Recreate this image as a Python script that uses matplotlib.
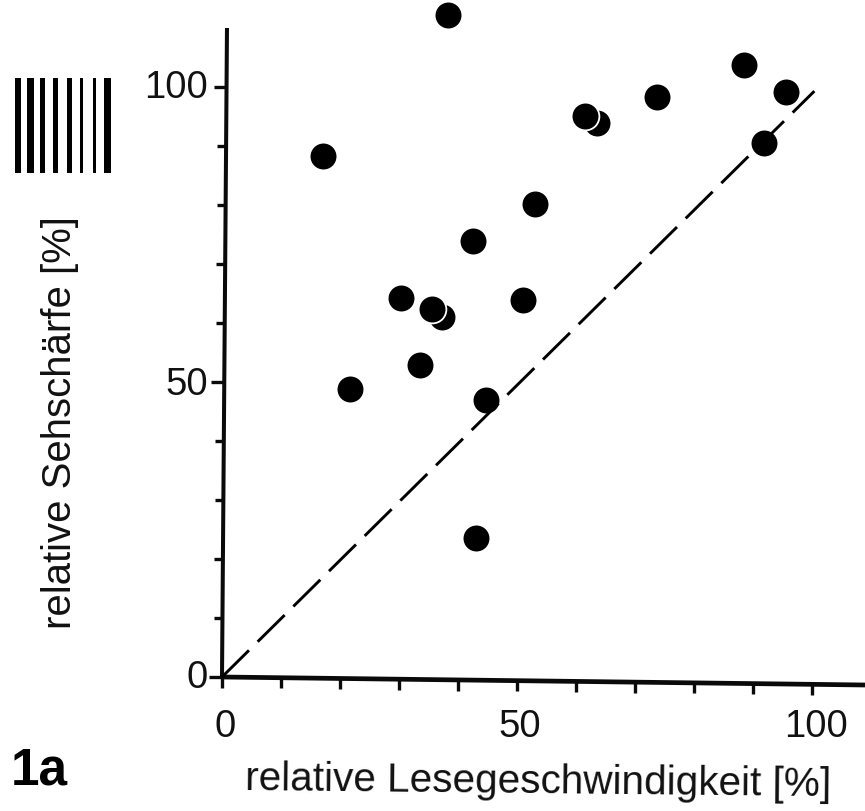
import matplotlib
matplotlib.use("Agg")
import matplotlib.pyplot as plt
from matplotlib.patches import Rectangle
import numpy as np

plt.rcParams['font.family'] = ['Liberation Sans', 'DejaVu Sans']

W, H = 865, 811

# values, hidden circles first so the others cover them
lese = [63.6, 37.3, 38.3, 88.5, 73.7, 95.6, 61.5, 17.1, 91.9, 53.1, 42.5, 30.3, 51.0, 35.6, 33.6, 21.7, 44.7, 43.0]
seh = [93.9, 61.0, 112.2, 103.7, 98.3, 99.2, 95.1, 88.3, 90.5, 80.2, 73.9, 64.2, 63.9, 62.4, 52.9, 48.8, 46.9, 23.6]
diag_x = [0, 100.4]
diag_y = [0, 99.3]
major_ticks = [0, 50, 100]
minor_ticks = [10, 20, 30, 40, 60, 70, 80, 90]
x_ticks_all = [0, 10, 20, 30, 40, 50, 60, 70, 80, 90, 100]

# stimulus grating at the upper left
bar_centers = [17.7, 30.7, 42.7, 55.7, 69, 81, 94, 107.7]
bar_widths = [6, 7, 5, 5, 5, 3, 3, 7]

scale = 5.9  # pixels per percent
x0_px, y0_px = 222, 677
ax = plt.figure(figsize=(W / 100, H / 100), dpi=100).add_axes([0, 0, 1, 1])
fig = ax.figure
ax.set_xlim(-x0_px / scale, (W - x0_px) / scale)
ax.set_ylim(-(H - y0_px) / scale, y0_px / scale)
ax.axis('off')

# the scan is slightly rotated, so the axes lean a little
lean = 8 / 643
lean_y = 5 / 650
axis_col = '#0a0a0a'

top = 110
right = (W - x0_px) / scale
ax.plot([0, right], [0, -lean * right], color=axis_col, lw=3.4, solid_capstyle='butt')
ax.plot([0, lean_y * top], [0, top], color=axis_col, lw=2.9, solid_capstyle='butt')

for t in x_ticks_all:
    base = -lean * t
    ax.plot([t, t], [base, base - 1.8], color=axis_col, lw=2.4, solid_capstyle='butt')

for t in major_ticks:
    base = lean_y * t
    ax.plot([base - 2.2, base], [t, t], color=axis_col, lw=2.4, solid_capstyle='butt')
for t in minor_ticks:
    base = lean_y * t
    ax.plot([base - 1.5, base], [t, t], color=axis_col, lw=2.4, solid_capstyle='butt')

ax.scatter(lese, seh, s=400, c='black', edgecolors='white', linewidths=1.3, zorder=3, clip_on=False)
ax.plot(diag_x, diag_y, color='black', lw=2.1, dashes=(13, 4.2), zorder=4)


def px(x, y):
    return x / W, 1 - y / H


fs = 27.5
for t, xp in zip(major_ticks, [225, 520, 816]):
    fig.text(*px(xp, 727), str(t), fontsize=fs, ha='center', va='center', color='#111111')
for t, yp in zip(major_ticks, [678, 385, 88]):
    fig.text(*px(208, yp), str(t), fontsize=fs, ha='right', va='center', color='#111111')

fig.text(*px(538, 782), 'relative Lesegeschwindigkeit [%]', fontsize=29.2, ha='center', va='center',
         color='#111111', rotation=-0.6, rotation_mode='anchor')
fig.text(*px(60, 423), 'relative Sehschärfe [%]', fontsize=28.9, ha='center', va='center',
         color='#111111', rotation=90)
fig.text(*px(39, 771), '1a', fontsize=37, fontweight='bold', ha='center', va='center', color='black')

for c, w in zip(bar_centers, bar_widths):
    x, y = px(c - w / 2, 173)
    fig.add_artist(Rectangle((x, y), w / W, 95 / H, transform=fig.transFigure, color='black', lw=0))

fig.savefig('out.png', dpi=100)
